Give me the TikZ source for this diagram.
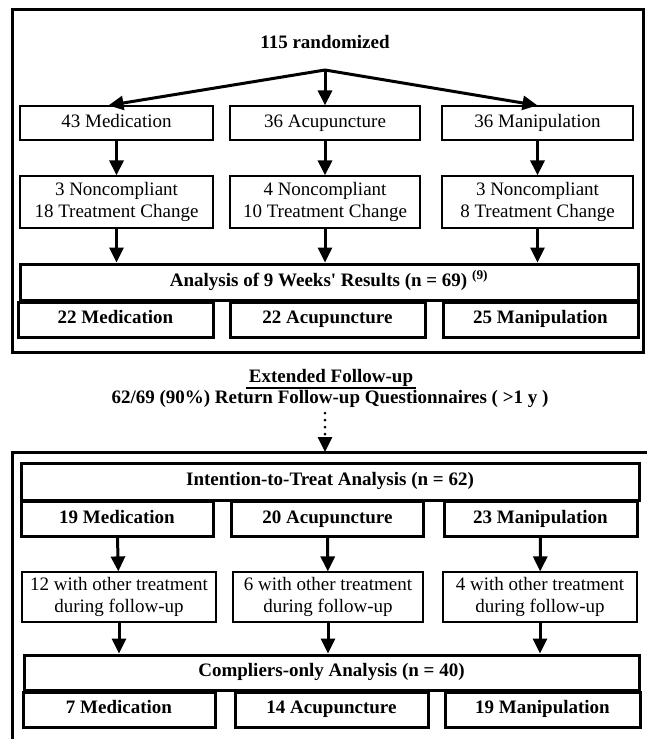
\documentclass[tikz,border=0pt]{standalone}
\usepackage{fontspec}
\setmainfont{Liberation Serif}
\usetikzlibrary{arrows.meta}

\begin{document}
\begin{tikzpicture}[x=1pt,y=-1pt,
  box/.style={draw, line width=1.2pt, inner sep=0pt, minimum height=34, align=center,
              text height=13pt, text depth=4.5pt, font=\fontsize{19}{21.7}\selectfont},
  box2/.style={draw, line width=1.2pt, inner sep=0pt, align=center,
              font=\fontsize{19}{21.7}\selectfont},
  bbox/.style={draw, line width=3pt, inner sep=0pt, minimum height=35,
              text height=13pt, text depth=4.5pt, font=\fontsize{19}{21.7}\selectfont\bfseries},
  hdr/.style={inner sep=0pt, anchor=base, font=\fontsize{19}{21.7}\selectfont\bfseries},
  frame/.style={line width=3pt},
  arr/.style={line width=3pt, -{Triangle[length=15pt,width=14pt]}}]
\useasboundingbox (0,0) rectangle (647,739);
% first part
\draw[frame] (12.5,9) rectangle (643,352);
\node (rand) at (325,48) [hdr] {115 randomized};
\coordinate (split) at (325,70);
\node (m1) at (116.5,123) [box, minimum width=193] {43 Medication};
\node (a1) at (325,123)   [box, minimum width=190] {36 Acupuncture};
\node (p1) at (537.5,123) [box, minimum width=191] {36 Manipulation};
\node (m2) at (116.5,202) [box2, minimum width=193, minimum height=52] {3 Noncompliant\\18 Treatment Change};
\node (a2) at (325,202)   [box2, minimum width=190, minimum height=52] {4 Noncompliant\\10 Treatment Change};
\node (p2) at (537.5,202) [box2, minimum width=191, minimum height=52] {3 Noncompliant\\8 Treatment Change};
\node (ana) at (329,282)  [bbox, minimum width=618, minimum height=36] {Analysis of 9 Weeks\textquotesingle{} Results (n = 69) \textsuperscript{(9)}};
\node (m3) at (115.5,319.5) [bbox, minimum width=195] {22 Medication};
\node (a3) at (327.5,319.5) [bbox, minimum width=195] {22 Acupuncture};
\node (p3) at (540.5,319.5) [bbox, minimum width=195] {25 Manipulation};
\draw[arr] (split) -- ([xshift=-8pt]m1.north);
\draw[arr] (split) -- (a1.north);
\draw[arr] (split) -- (p1.north);
\draw[arr] (m1) -- (m2);
\draw[arr] (a1) -- (a2);
\draw[arr] (p1) -- (p2);
\draw[arr] (m2.south) -- (m2.south |- ana.north);
\draw[arr] (a2.south) -- (a2.south |- ana.north);
\draw[arr] (p2.south) -- (p2.south |- ana.north);
% follow-up
\node (ext) at (331,382) [hdr] {Extended Follow-up};
\draw[line width=2pt] ([yshift=-2pt,xshift=-3pt]ext.south west) -- ([yshift=-2pt,xshift=3pt]ext.south east);
\node (ret) at (330,403) [hdr] {62/69 (90\%) Return Follow-up Questionnaires ( >1 y )};
\coordinate (dots) at (325,413);
% second part
\draw[frame] (12,452) rectangle (649,745);
\coordinate (top2) at (325,452);
\draw[line width=3pt, line cap=round, dash pattern=on 0pt off 7pt,
      -{Triangle[length=15pt,width=14pt]}] (dots) -- (top2);
\node (itt) at (330,481.5) [bbox, minimum width=618, minimum height=37] {Intention-to-Treat Analysis (n = 62)};
\node (m4) at (117,519)   [bbox, minimum width=192] {19 Medication};
\node (a4) at (327.5,519) [bbox, minimum width=192] {20 Acupuncture};
\node (p4) at (540.5,519) [bbox, minimum width=193] {23 Manipulation};
\node (m5) at (119,597) [box2, minimum width=194, minimum height=50] {12 with other treatment\\during follow-up};
\node (a5) at (328,597) [box2, minimum width=190, minimum height=50] {6 with other treatment\\during follow-up};
\node (p5) at (540,597) [box2, minimum width=194, minimum height=50] {4 with other treatment\\during follow-up};
\node (comp) at (331.5,672.5) [bbox, minimum width=615] {Compliers-only Analysis (n = 40)};
\node (m6) at (119,709.5)   [bbox, minimum width=192] {7 Medication};
\node (a6) at (331.5,709.5) [bbox, minimum width=193] {14 Acupuncture};
\node (p6) at (542.5,709.5) [bbox, minimum width=195] {19 Manipulation};
\draw[arr] (m4) -- (m5);
\draw[arr] (a4) -- (a5);
\draw[arr] (p4) -- (p5);
\draw[arr] (m5.south) -- (m5.south |- comp.north);
\draw[arr] (a5.south) -- (a5.south |- comp.north);
\draw[arr] (p5.south) -- (p5.south |- comp.north);
\end{tikzpicture}
\end{document}
